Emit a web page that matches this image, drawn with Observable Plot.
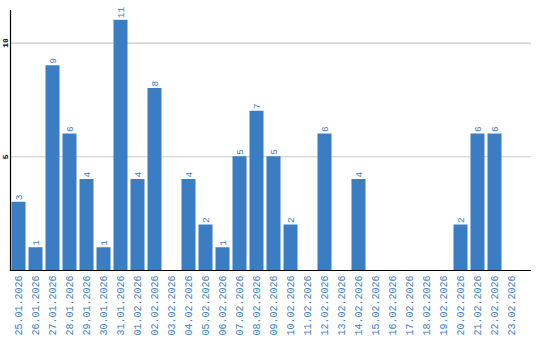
<!DOCTYPE html>
<html><head><meta charset="utf-8">
<script src="https://cdn.jsdelivr.net/npm/d3@7"></script>
<script src="https://cdn.jsdelivr.net/npm/@observablehq/plot@0.6"></script>
<style>body{margin:0;background:#fff}</style>
</head><body><div id="chart"></div>
<script>
const dates = ["25.01.2026","26.01.2026","27.01.2026","28.01.2026","29.01.2026","30.01.2026","31.01.2026","01.02.2026","02.02.2026","03.02.2026","04.02.2026","05.02.2026","06.02.2026","07.02.2026","08.02.2026","09.02.2026","10.02.2026","11.02.2026","12.02.2026","13.02.2026","14.02.2026","15.02.2026","16.02.2026","17.02.2026","18.02.2026","19.02.2026","20.02.2026","21.02.2026","22.02.2026","23.02.2026"];
const counts = [3,1,9,6,4,1,11,4,8,0,4,2,1,5,7,5,2,0,6,0,4,0,0,0,0,0,2,6,6,0];
const yTicks = [5,10];

const data = dates.map((d,i)=>({date:d, count:counts[i]}));
const blue = "#3b7dc2";
const mono = "'Liberation Mono', 'DejaVu Sans Mono', monospace";

const chart = Plot.plot({
  width: 540, height: 340,
  marginTop: 10, marginBottom: 70, marginLeft: 10, marginRight: 20,
  style: {fontFamily: mono, background: "#fff"},
  x: {domain: dates, paddingInner: 3/17, paddingOuter: 1.5/17, round: false, axis: null},
  y: {domain: [0, 11.43], axis: null},
  marks: [
    Plot.ruleY(yTicks, {stroke: "#c8c8c8", strokeWidth: 1.2, insetRight: -11}),
    Plot.barY(data, {x: "date", y: "count", fill: blue}),
    Plot.text(data.filter(d=>d.count>0), {x: "date", y: "count", text: d=>String(d.count), rotate: -90, textAnchor: "start", lineAnchor: "middle", dy: -2, fill: blue, fontSize: 9.5, fontFamily: mono}),
    Plot.axisX({tickSize: 0, tickRotate: -90, tickPadding: 5, fill: blue, fontSize: 10, fontFamily: mono, label: null}),
    Plot.text(yTicks, {y: d=>d, frameAnchor: "left", dx: -5, rotate: -90, text: d=>String(d), textAnchor: "middle", lineAnchor: "middle", fontSize: 8, fontWeight: "bold", fill: "#000", fontFamily: mono}),
    Plot.ruleY([0], {stroke: "#000", strokeWidth: 1.2, insetRight: -11}),
    Plot.frame({anchor: "left", stroke: "#000", strokeWidth: 1.2})
  ]
});
document.getElementById("chart").append(chart);
</script>
</body></html>
